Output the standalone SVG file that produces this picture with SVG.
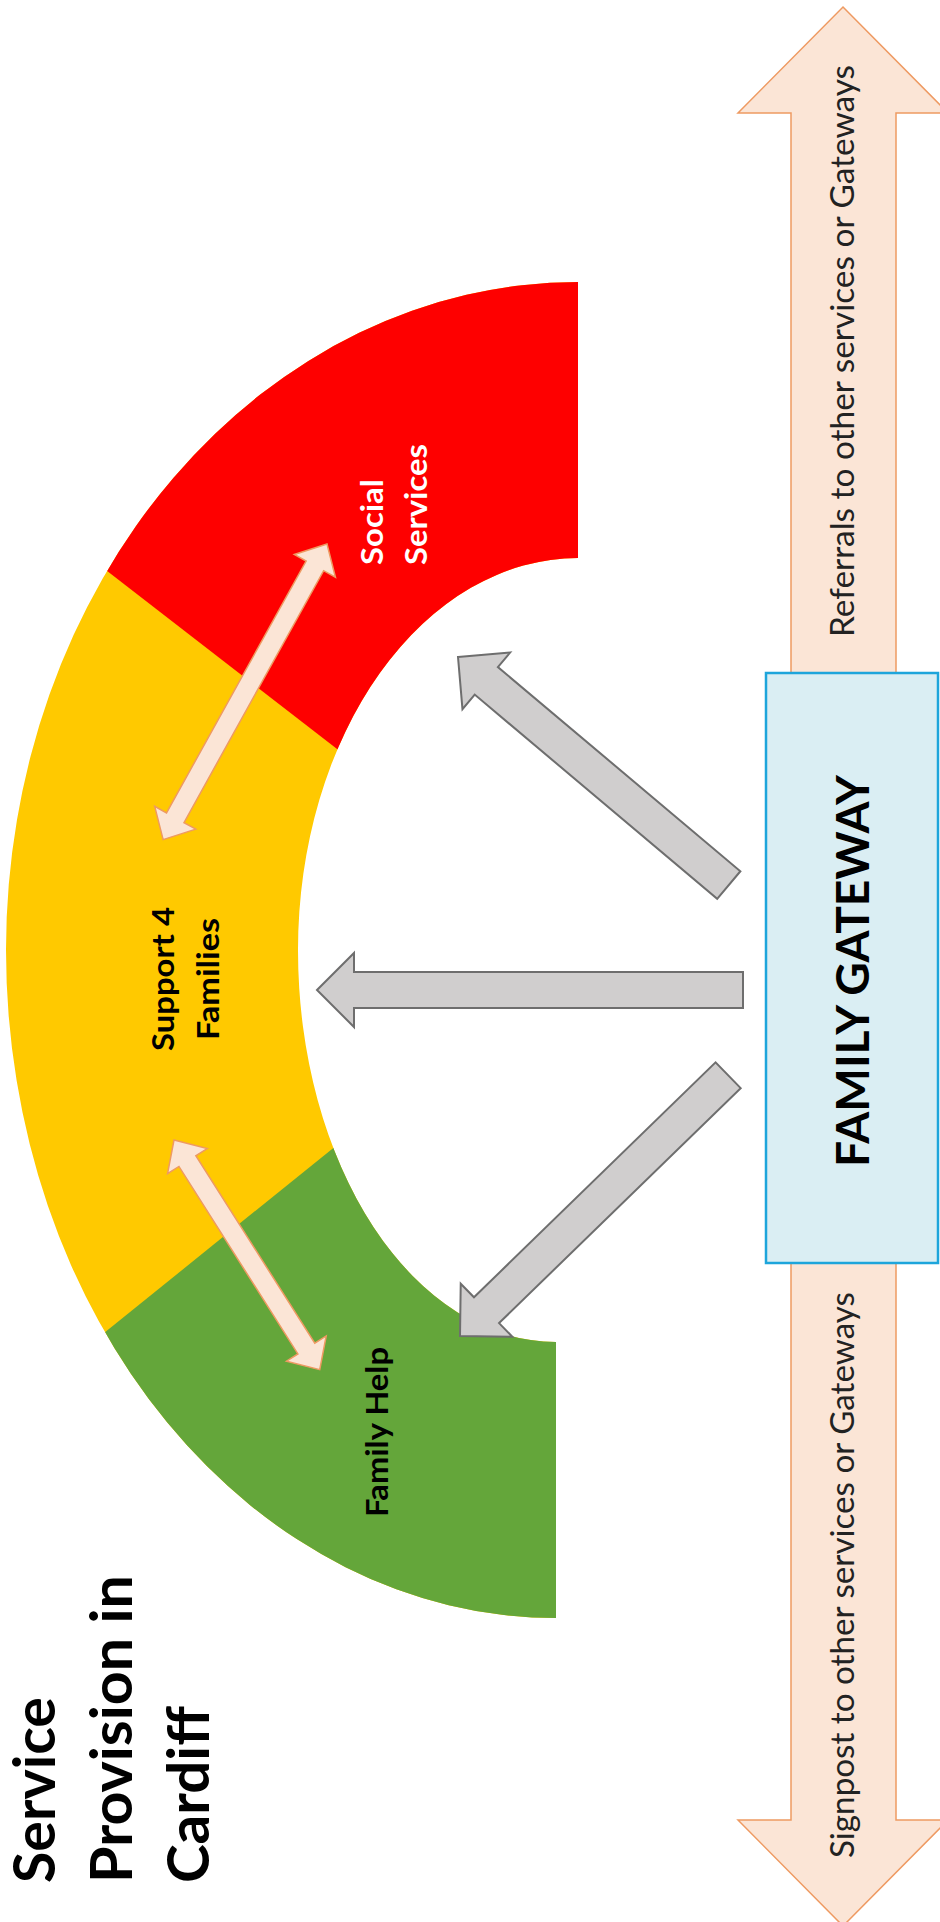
<svg xmlns="http://www.w3.org/2000/svg" width="940" height="1922" viewBox="0 0 940 1922">
<style>
.lbl{font-family:Lato,"Open Sans","Liberation Sans",sans-serif;font-weight:bold;}
.reg{font-family:Lato,"Open Sans","Liberation Sans",sans-serif;font-weight:normal;fill:#222;}
.gray{fill:#D0CECE;stroke:#6E6E6E;stroke-width:2;stroke-linejoin:miter;}
.pink{fill:#FBE5D6;stroke:#EE9A62;stroke-width:1.5;stroke-linejoin:miter;}
</style>
<defs>
<clipPath id="ringClip">
<path d="M578,282 A572,668 0 0 0 6,950 A550,668 0 0 0 556,1618 L556,1342 A258,392 0 0 1 298,950 A280,392 0 0 1 578,558 Z"/>
</clipPath>
</defs>
<rect width="940" height="1922" fill="#FFFFFF"/>

<g id="ring" clip-path="url(#ringClip)">
<rect x="0" y="200" width="700" height="1500" fill="#FFC900"/>
<polygon points="0,488 0,0 700,0 700,1030" fill="#FE0000"/>
<polygon points="0,1417 700,852 700,1922 0,1922" fill="#64A63A"/>
</g>

<g id="title">
<text class="lbl" font-size="57" fill="#000" transform="translate(55,1883) rotate(-90)" textLength="186" lengthAdjust="spacingAndGlyphs">Service</text>
<text class="lbl" font-size="57" fill="#000" transform="translate(132,1883) rotate(-90)" textLength="308" lengthAdjust="spacingAndGlyphs">Provision in</text>
<text class="lbl" font-size="57" fill="#000" transform="translate(209,1883) rotate(-90)" textLength="177" lengthAdjust="spacingAndGlyphs">Cardiff</text>
</g>

<g id="social-services">
<text class="lbl" font-size="31" fill="#FFFFFF" transform="translate(383,565) rotate(-90)" textLength="86" lengthAdjust="spacingAndGlyphs">Social</text>
<text class="lbl" font-size="31" fill="#FFFFFF" transform="translate(427,565) rotate(-90)" textLength="121" lengthAdjust="spacingAndGlyphs">Services</text>
</g>

<g id="support-4-families">
<text class="lbl" font-size="31" fill="#000" text-anchor="middle" transform="translate(174,979) rotate(-90)" textLength="144" lengthAdjust="spacingAndGlyphs">Support 4</text>
<text class="lbl" font-size="31" fill="#000" text-anchor="middle" transform="translate(219,979) rotate(-90)" textLength="122" lengthAdjust="spacingAndGlyphs">Families</text>
</g>

<g id="family-help">
<text class="lbl" font-size="31" fill="#000" text-anchor="middle" transform="translate(388,1432) rotate(-90)" textLength="170" lengthAdjust="spacingAndGlyphs">Family Help</text>
</g>

<g id="connectors">
<polygon id="referral-signpost-arrow" class="pink" points="843,7 948,113 896,113 896,1820 948,1820 843,1926 738,1820 791,1820 791,113 738,113"/>
<g transform="translate(458,657) rotate(40.1)"><polygon class="gray" points="0,0 37,-37 37,-18 354,-18 354,18 37,18 37,37"/></g>
<g transform="translate(317,990)"><polygon class="gray" points="0,0 37,-37 37,-18 426,-18 426,18 37,18 37,37"/></g>
<g transform="translate(460,1336) rotate(-44.2)"><polygon class="gray" points="0,0 37,-37 37,-18 374,-18 374,18 37,18 37,37"/></g>
<g transform="translate(327,544) rotate(119)"><polygon class="pink" points="0,0 25,-23.5 25,-10 313,-10 313,-23.5 338,0 313,23.5 313,10 25,10 25,23.5"/></g>
<g transform="translate(174,1140) rotate(57.6)"><polygon class="pink" points="0,0 25,-23.5 25,-10 247,-10 247,-23.5 272,0 247,23.5 247,10 25,10 25,23.5"/></g>
</g>

<g id="arrow-labels">
<text class="reg" font-size="32" text-anchor="middle" transform="translate(854,351) rotate(-90)" textLength="572" lengthAdjust="spacingAndGlyphs">Referrals to other services or Gateways</text>
<text class="reg" font-size="32" text-anchor="middle" transform="translate(854,1575) rotate(-90)" textLength="566" lengthAdjust="spacingAndGlyphs">Signpost to other services or Gateways</text>
</g>

<g id="family-gateway">
<rect x="766" y="673" width="172" height="590" fill="#DAEEF3" stroke="#1DA5DB" stroke-width="2.5"/>
<text class="lbl" font-size="46" fill="#000" text-anchor="middle" transform="translate(869,971) rotate(-90)" textLength="392" lengthAdjust="spacingAndGlyphs">FAMILY GATEWAY</text>
</g>
</svg>
